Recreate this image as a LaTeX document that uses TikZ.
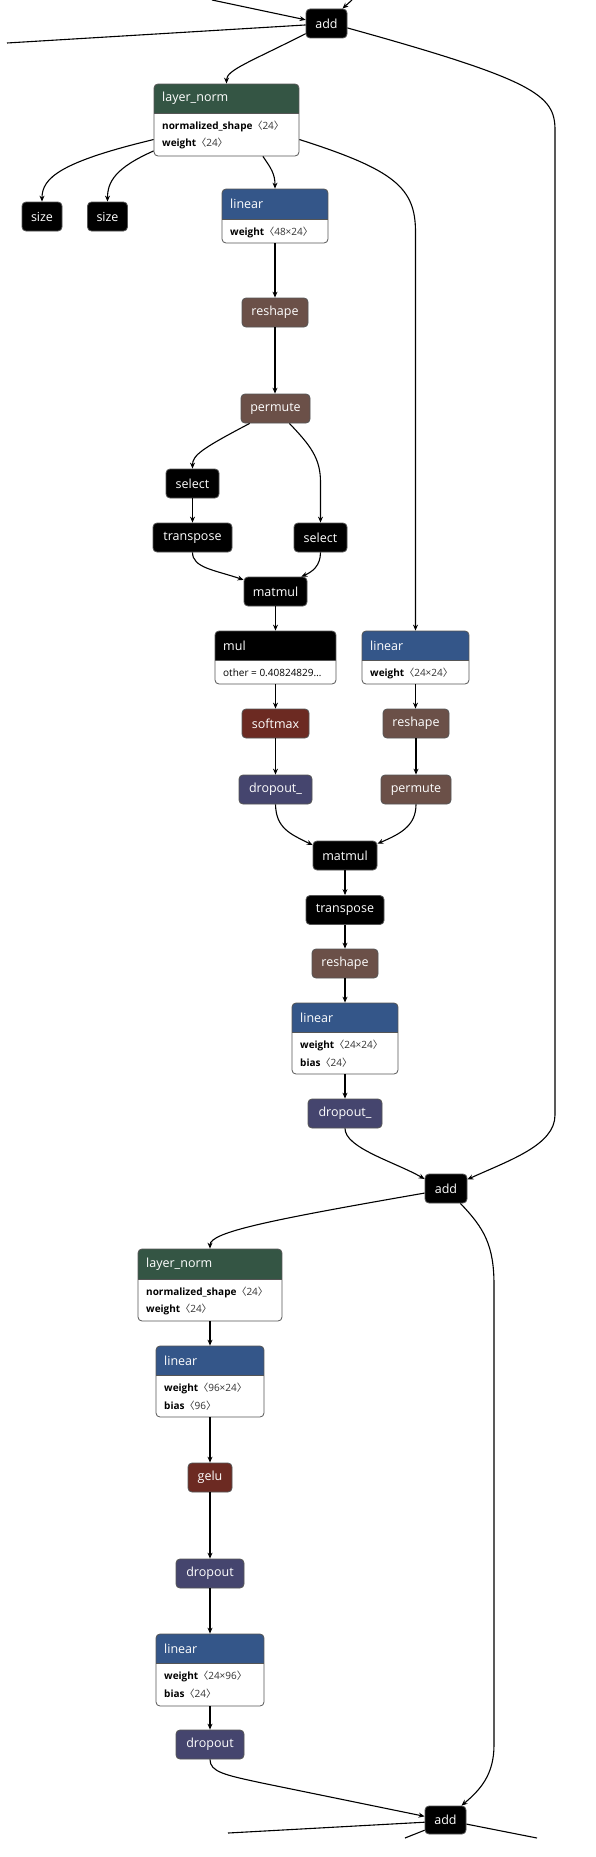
\documentclass[tikz,border=0pt]{standalone}
\usepackage{fontspec}
\setmainfont{Open Sans}
\newfontfamily\cjkf{Noto Sans CJK SC}
\usetikzlibrary{arrows.meta,fit}
\definecolor{lncol}{RGB}{52,85,68}
\definecolor{lincol}{RGB}{52,86,137}
\definecolor{shpcol}{RGB}{107,80,72}
\definecolor{actcol}{RGB}{108,42,34}
\definecolor{dropcol}{RGB}{69,69,110}
\definecolor{bordc}{RGB}{85,85,85}
\definecolor{valc}{RGB}{50,50,50}
\newcommand\hdrfont{\fontsize{12.5}{14}\selectfont}
\newcommand\rowfont{\fontsize{10}{12}\selectfont}
\newcommand\val[1]{{\color{valc}{\cjkf 〈}#1{\cjkf 〉}}}
\tikzset{
  op/.style={draw=bordc, line width=0.8pt, rounded corners=4pt, text=white, font=\hdrfont, inner sep=0pt},
  conn/.style={draw=black, line width=1.1pt, -{Stealth[length=6pt,width=5pt]}},
  plainline/.style={draw=black, line width=1.1pt},
  rowtext/.style={anchor=west, inner sep=0pt, font=\rowfont, text=black},
}
% name, x1, y1, x2, y2, yh, colour, title
\newcommand\opbox[8]{%
  \begin{scope}
    \clip[rounded corners=4pt] (#2,#3) rectangle (#4,#5);
    \fill[white] (#2,#3) rectangle (#4,#5);
    \fill[#7] (#2,#3) rectangle (#4,#6);
  \end{scope}
  \draw[bordc, line width=0.8pt] (#2,#6) -- (#4,#6);
  \node[draw=bordc, line width=0.8pt, rounded corners=4pt, inner sep=0pt, fit={(#2,#3) (#4,#5)}] (#1) {};
  \node[anchor=west, inner sep=0pt, text=white, font=\hdrfont] (#1-t) at ({#2+8},{(#3+#6)/2}) {#8};
}
\begin{document}
\begin{tikzpicture}[x=1pt,y=-1pt]
\useasboundingbox[fill=white] (0,0) rectangle (596,1857);

% ---- simple nodes
\node[op, fill=black, minimum width=41pt, minimum height=29pt] (add1) at (326.5,23.5) {add};
\node[op, fill=black, minimum width=40pt, minimum height=29pt] (size1) at (42,216.5) {size};
\node[op, fill=black, minimum width=40pt, minimum height=29pt] (size2) at (107.5,216.5) {size};
\node[op, fill=shpcol, minimum width=66pt, minimum height=29pt] (reshape1) at (275,312.5) {reshape};
\node[op, fill=shpcol, minimum width=69pt, minimum height=29pt] (permute1) at (275.5,408.5) {permute};
\node[op, fill=black, minimum width=53pt, minimum height=29pt] (select1) at (192.5,483.5) {select};
\node[op, fill=black, minimum width=79pt, minimum height=29pt] (transpose1) at (192.5,537.5) {transpose};
\node[op, fill=black, minimum width=53pt, minimum height=29pt] (select2) at (320.5,537.5) {select};
\node[op, fill=black, minimum width=63pt, minimum height=29pt] (matmul1) at (275.5,591.5) {matmul};
\node[op, fill=actcol, minimum width=67pt, minimum height=29pt] (softmax) at (275.5,723.5) {softmax};
\node[op, fill=shpcol, minimum width=66pt, minimum height=29pt] (reshape2) at (416,723.5) {reshape};
\node[op, fill=dropcol, minimum width=73pt, minimum height=29pt] (dropa) at (275.5,789.5) {dropout\_};
\node[op, fill=shpcol, minimum width=70pt, minimum height=29pt] (permute2) at (416,789.5) {permute};
\node[op, fill=black, minimum width=64pt, minimum height=29pt] (matmul2) at (345,855.5) {matmul};
\node[op, fill=black, minimum width=78pt, minimum height=29pt] (transpose2) at (345,910) {transpose};
\node[op, fill=shpcol, minimum width=66pt, minimum height=29pt] (reshape3) at (345,963.5) {reshape};
\node[op, fill=dropcol, minimum width=74pt, minimum height=29pt] (dropb) at (345,1113.5) {dropout\_};
\node[op, fill=black, minimum width=42pt, minimum height=29pt] (add2) at (446,1188.5) {add};
\node[op, fill=actcol, minimum width=44pt, minimum height=29pt] (gelu) at (210,1477.5) {gelu};
\node[op, fill=dropcol, minimum width=68pt, minimum height=29pt] (dropc) at (210,1573.5) {dropout};
\node[op, fill=dropcol, minimum width=68pt, minimum height=29pt] (dropd) at (210,1744.5) {dropout};
\node[op, fill=black, minimum width=41pt, minimum height=28pt] (add3) at (445.5,1820) {add};

% ---- boxes with parameters
\opbox{ln1}{154}{84}{299}{156}{113}{lncol}{layer\_norm}
\node[rowtext] (ln1-r1) at (162,126.5) {\textbf{normalized\_shape}\val{24}};
\node[rowtext] (ln1-r2) at (162,143.5) {\textbf{weight}\val{24}};

\opbox{lin1}{222}{189}{328}{243}{219}{lincol}{linear}
\node[rowtext] (lin1-r1) at (230,232) {\textbf{weight}\val{48×24}};

\opbox{mul}{215}{631}{336}{684}{660}{black}{mul}
\node[rowtext] (mul-r1) at (223,673) {other = 0.40824829…};

\opbox{lin2}{362}{631}{469}{684}{660}{lincol}{linear}
\node[rowtext] (lin2-r1) at (370,673) {\textbf{weight}\val{24×24}};

\opbox{lin3}{292}{1003}{398}{1074}{1032}{lincol}{linear}
\node[rowtext] (lin3-r1) at (300,1045.5) {\textbf{weight}\val{24×24}};
\node[rowtext] (lin3-r2) at (300,1062.5) {\textbf{bias}\val{24}};

\opbox{ln2}{138}{1249}{282}{1321}{1279}{lncol}{layer\_norm}
\node[rowtext] (ln2-r1) at (146,1292.5) {\textbf{normalized\_shape}\val{24}};
\node[rowtext] (ln2-r2) at (146,1309.5) {\textbf{weight}\val{24}};

\opbox{lin4}{156}{1346}{264}{1417}{1375}{lincol}{linear}
\node[rowtext] (lin4-r1) at (164,1388.5) {\textbf{weight}\val{96×24}};
\node[rowtext] (lin4-r2) at (164,1405.5) {\textbf{bias}\val{96}};

\opbox{lin5}{156}{1634}{264}{1706}{1663}{lincol}{linear}
\node[rowtext] (lin5-r1) at (164,1676.5) {\textbf{weight}\val{24×96}};
\node[rowtext] (lin5-r2) at (164,1693.5) {\textbf{bias}\val{24}};

% ---- free ends
\coordinate (inA) at (212,0);
\coordinate (inB) at (352,0);
\coordinate (outA) at (7,43);
\coordinate (outB) at (228,1833);
\coordinate (outC) at (405,1838);
\coordinate (outD) at (537,1838);

% ---- connectors
\draw[conn] (inA) -- (add1.170);
\draw[conn] (inB) -- (add1.43);
\draw[plainline] (add1.184) -- (outA);
\draw[conn] (add1.206) .. controls (250,62) and (226.5,70) .. (ln1.north);
\draw[conn] (add1.-12) .. controls (535,80) and (555,95) .. (555,130) -- (555,1115)
   .. controls (555,1145) and (510,1160) .. (add2.23);
\draw[conn] (ln1.195) .. controls (60,162) and (42,178) .. (size1.north);
\draw[conn] (ln1.203) .. controls (115,168) and (107.5,182) .. (size2.north);
\draw[conn] (ln1.-45) .. controls (271,168) and (275,174) .. (lin1.north);
\draw[conn] (ln1.-15) .. controls (395,170) and (415.5,188) .. (415.5,232) -- (lin2.north);
\draw[conn] (lin1.south) -- (reshape1.north);
\draw[conn] (reshape1.north |- reshape1.south) -- (permute1.north -| reshape1.south);
\draw[conn] (permute1.210) .. controls (203,448) and (192.5,455) .. (select1.north);
\draw[conn] (permute1.-47) .. controls (310,445) and (320.5,458) .. (320.5,482) -- (select2.north);
\draw[conn] (select1.south) -- (transpose1.north);
\draw[conn] (transpose1.south) .. controls (192.5,568) and (215,570) .. (matmul1.160);
\draw[conn] (select2.south) .. controls (320.5,566) and (312,572) .. (matmul1.30);
\draw[conn] (matmul1.south) -- (mul.north);
\draw[conn] (mul.south) -- (softmax.north);
\draw[conn] (softmax.south) -- (dropa.north);
\draw[conn] (lin2.south) -- (reshape2.north -| lin2.south);
\draw[conn] (reshape2.south) -- (permute2.north);
\draw[conn] (dropa.south) .. controls (276,828) and (290,834) .. (matmul2.162);
\draw[conn] (permute2.south) .. controls (416,826) and (400,834) .. (matmul2.20);
\draw[conn] (matmul2.south) -- (transpose2.north);
\draw[conn] (transpose2.south) -- (reshape3.north);
\draw[conn] (reshape3.south) -- (lin3.north);
\draw[conn] (lin3.south) -- (dropb.north);
\draw[conn] (dropb.south) .. controls (345,1148) and (395,1162) .. (add2.156);
\draw[conn] (add2.192) .. controls (270,1220) and (210,1232) .. (ln2.north);
\draw[conn] (add2.-46) .. controls (484,1228) and (494,1245) .. (494,1285) -- (494,1745)
   .. controls (494,1775) and (480,1790) .. (add3.42);
\draw[conn] (ln2.south) -- (lin4.north);
\draw[conn] (lin4.south) -- (gelu.north);
\draw[conn] (gelu.south) -- (dropc.north);
\draw[conn] (dropc.south) -- (lin5.north);
\draw[conn] (lin5.south) -- (dropd.north);
\draw[conn] (dropd.south) .. controls (210,1772) and (225,1775) .. (262,1783) -- (add3.170);
\draw[plainline] (add3.186) -- (outB);
\draw[plainline] (add3.206) -- (outC);
\draw[plainline] (add3.-11) -- (outD);
\end{tikzpicture}
\end{document}
